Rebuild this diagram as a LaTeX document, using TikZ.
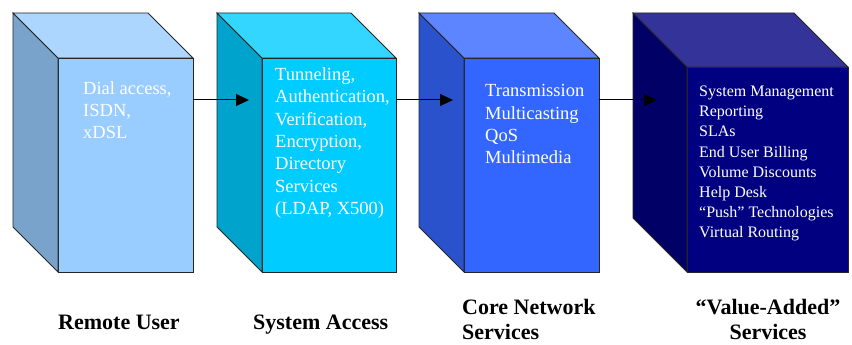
\documentclass[tikz,border=0pt]{standalone}
\usepackage{fontspec}
\setmainfont{Liberation Serif}
\usetikzlibrary{arrows.meta}

% colours of the four blocks: front, top and side faces
\definecolor{ruFront}{HTML}{99CCFF}
\definecolor{ruTop}{HTML}{ADD6FF}
\definecolor{ruSide}{HTML}{7AA3CC}
\definecolor{saFront}{HTML}{00CCFF}
\definecolor{saTop}{HTML}{33D6FF}
\definecolor{saSide}{HTML}{00A3CC}
\definecolor{cnFront}{HTML}{3366FF}
\definecolor{cnTop}{HTML}{5C85FF}
\definecolor{cnSide}{HTML}{2952CC}
\definecolor{vaFront}{HTML}{000080}
\definecolor{vaTop}{HTML}{333399}
\definecolor{vaSide}{HTML}{000066}

\tikzset{
  face/.style={draw=black!85, line width=0.8pt, line join=miter},
  frontface/.style={face, rectangle, inner sep=0pt, outer sep=0pt, anchor=north west},
  boxtext/.style={text=white, align=left, anchor=north west, inner sep=0pt},
  caption/.style={font=\fontsize{22}{25.5}\selectfont\bfseries, inner sep=0pt},
  flow/.style={draw=black, line width=1pt, -{Triangle[length=13pt,width=12pt]}}
}

% \cubebox{name}{x}{y}{width}{height}{depth}{front}{top}{side}
\newcommand\cubebox[9]{%
  \node[frontface, fill=#7, minimum width=#4pt, minimum height=#5pt] (#1) at (#2,#3) {};
  \draw[face, fill=#9] (#1.north west) -- ++(-#6,-#6) -- ++(0,#5) -- (#1.south west) -- cycle;
  \draw[face, fill=#8] (#1.north west) -- ++(-#6,-#6) -- ++(#4,0) -- (#1.north east) -- cycle;
}

\begin{document}
\begin{tikzpicture}[x=1pt, y=-1pt]
  \useasboundingbox (0,0) rectangle (852,345);

  % the four blocks
  \cubebox{ru}{58}{58}{135}{214}{45}{ruFront}{ruTop}{ruSide}
  \cubebox{sa}{262}{58}{134}{214}{45}{saFront}{saTop}{saSide}
  \cubebox{cn}{464}{58}{135}{214}{45}{cnFront}{cnTop}{cnSide}
  \cubebox{va}{687}{67}{161}{205}{54}{vaFront}{vaTop}{vaSide}

  % texts on the front faces
  \node[boxtext, font=\fontsize{18.5}{22}\selectfont] (ruText) at (83,81.3)
    {Dial access,\\ISDN,\\xDSL};
  \node[boxtext, font=\fontsize{18.5}{22.4}\selectfont] (saText) at (275,67.3)
    {Tunneling,\\Authentication,\\Verification,\\Encryption,\\Directory\\Services\\(LDAP, X500)};
  \node[boxtext, font=\fontsize{18.5}{22.3}\selectfont] (cnText) at (485,84.3)
    {Transmission\\Multicasting\\QoS\\Multimedia};
  \node[boxtext, font=\fontsize{16}{20.1}\selectfont] (vaText) at (699,86)
    {System Management\\Reporting\\SLAs\\End User Billing\\Volume Discounts\\Help Desk\\``Push'' Technologies\\Virtual Routing};

  % flow arrows between the blocks
  \coordinate (a1) at (249,100);
  \coordinate (a2) at (453,100);
  \coordinate (a3) at (657,100);
  \draw[flow] (ru.east |- a1) -- (a1);
  \draw[flow] (sa.east |- a2) -- (a2);
  \draw[flow] (cn.east |- a3) -- (a3);

  % captions under the blocks
  \node[caption, anchor=base west] (ruCap) at (58,329) {Remote User};
  \node[caption, anchor=base west] (saCap) at (253,329) {System Access};
  \node[caption, align=left, anchor=north west] (cnCap) at (462,299) {Core Network\\Services};
  \node[caption, align=center, anchor=north] (vaCap) at (768,299) {``Value-Added''\\Services};
\end{tikzpicture}
\end{document}
